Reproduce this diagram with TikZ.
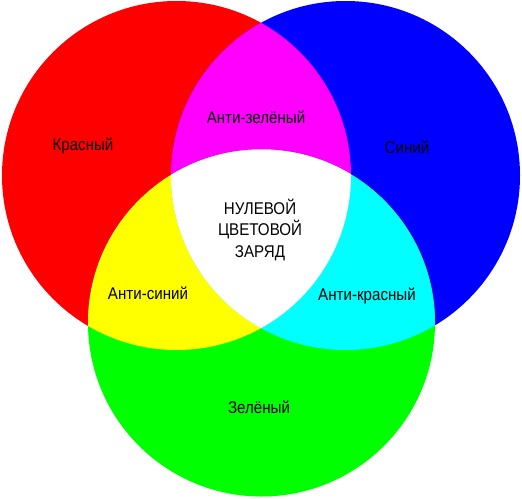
\documentclass[tikz,border=0pt]{standalone}
\usepackage{fontspec}
\setmainfont{Liberation Sans}[FakeStretch=0.89]

\definecolor{cred}{RGB}{255,0,0}
\definecolor{cgreen}{RGB}{0,255,0}
\definecolor{cblue}{RGB}{0,0,255}
\definecolor{cyellow}{RGB}{255,255,0}
\definecolor{cmagenta}{RGB}{255,0,255}
\definecolor{ccyan}{RGB}{0,255,255}

\tikzset{
  colname/.style={font=\fontsize{17}{21.5}\selectfont,text=black,inner sep=0pt,align=center},
  rgcircle/.style={radius=174.5pt},
  gcircle/.style={radius=173.5pt}
}

\begin{document}
\begin{tikzpicture}[x=1pt,y=-1pt]
\useasboundingbox (0,0) rectangle (522,498);
\coordinate (R) at (176.5,175.5);
\coordinate (B) at (345.5,175.5);
\coordinate (G) at (261.5,323);

% the three charges
\fill[cred] (R) circle[rgcircle];
\fill[cblue] (B) circle[rgcircle];
\fill[cgreen] (G) circle[gcircle];

% overlaps of two
\begin{scope}
\clip (R) circle[rgcircle];
\fill[cmagenta] (B) circle[rgcircle];
\fill[cyellow] (G) circle[gcircle];
\end{scope}
\begin{scope}
\clip (B) circle[rgcircle];
\fill[ccyan] (G) circle[gcircle];
\end{scope}

% overlap of all three
\begin{scope}
\clip (R) circle[rgcircle];
\clip (B) circle[rgcircle];
\fill[white] (G) circle[gcircle];
\end{scope}

\node[colname] (red) at (83,146) {Красный};
\node[colname] (blue) at (407,147) {Синий};
\node[colname] (green) at (259,407) {Зелёный};
\node[colname] (antigreen) at (256,117) {Анти-зелёный};
\node[colname] (antiblue) at (148,293) {Анти-синий};
\node[colname] (antired) at (367,296) {Анти-красный};
\node[colname] (zero) at (260,230) {НУЛЕВОЙ\\ЦВЕТОВОЙ\\ЗАРЯД};

\end{tikzpicture}
\end{document}
